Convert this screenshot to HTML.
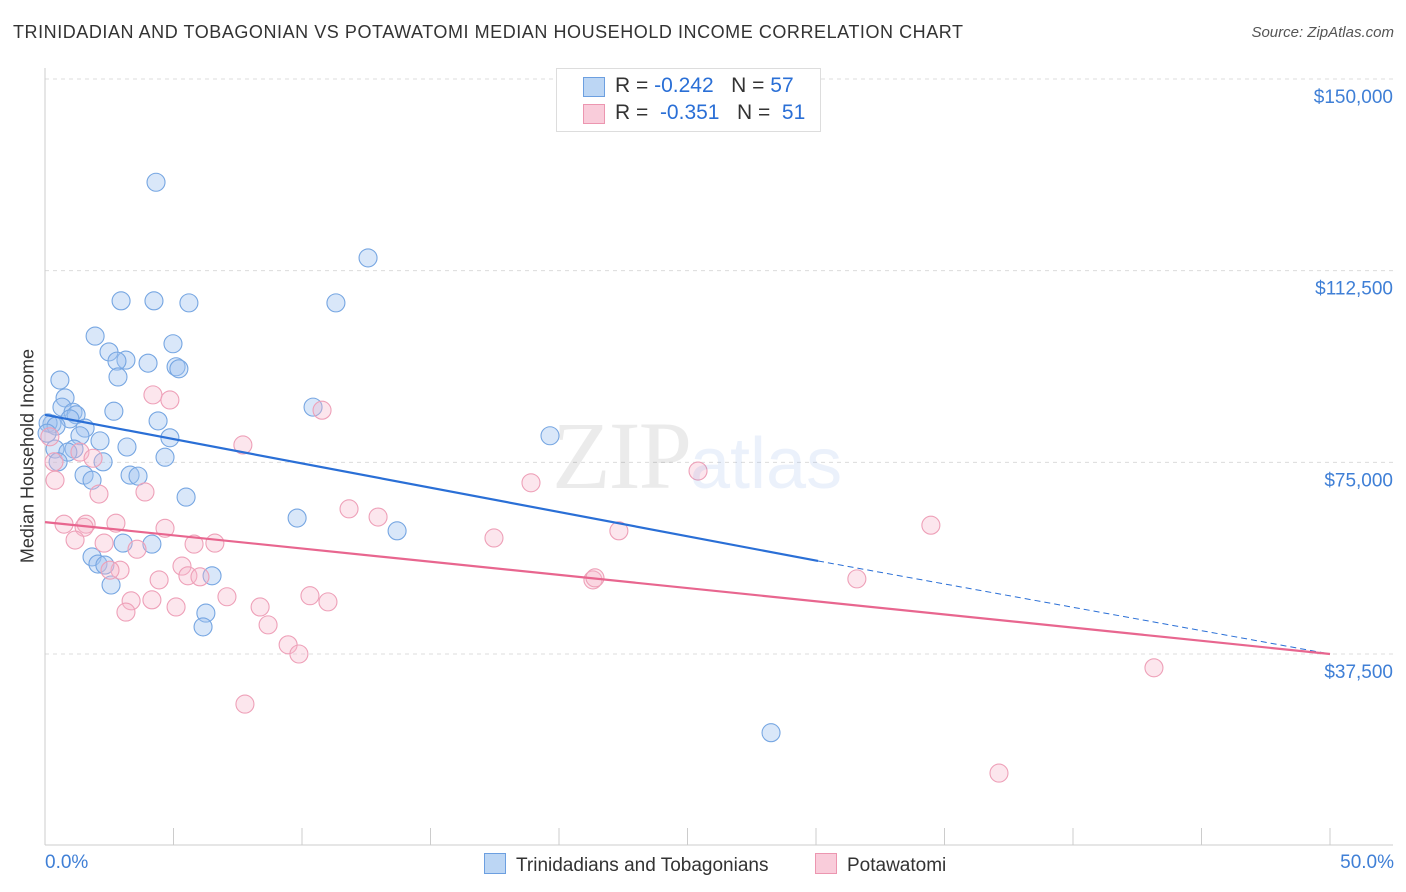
<!DOCTYPE html>
<html><head><meta charset="utf-8"><style>
body{margin:0;background:#fff;font-family:"Liberation Sans",sans-serif}
#wrap{position:relative;width:1406px;height:892px;overflow:hidden}
</style></head><body><div id="wrap">
<svg id="svg" width="1406" height="892"></svg>
</div>
<script>
const blueX=[4.32,12.57,2.96,4.24,5.60,11.32,1.95,4.98,2.49,3.15,2.80,4.01,5.10,5.21,2.84,0.58,0.78,0.66,2.68,1.09,1.21,4.40,0.27,0.97,0.12,0.43,1.56,1.36,2.14,4.86,19.65,3.19,0.39,1.13,0.08,0.89,4.67,2.26,0.51,10.43,1.52,3.31,3.62,1.83,5.49,9.81,13.70,3.04,4.16,1.83,2.06,2.33,6.50,2.57,6.26,6.15,28.25];
const blueY=[129.8,115.0,106.6,106.6,106.2,106.2,99.7,98.2,96.6,95.0,94.8,94.4,93.7,93.3,91.7,91.1,87.6,85.8,85.0,84.8,84.3,83.1,82.5,83.5,82.7,82.1,81.7,80.2,79.2,79.8,80.2,78.0,77.6,77.6,80.7,77.0,76.0,75.1,75.1,85.8,72.5,72.5,72.3,71.5,68.2,64.1,61.6,59.2,59.0,56.5,55.1,54.9,52.8,51.0,45.5,42.8,22.1];
const pinkX=[4.20,4.86,10.78,7.70,1.36,1.87,0.39,0.35,3.89,2.10,18.91,25.41,11.83,12.96,0.74,1.60,2.76,1.52,4.67,22.33,34.47,1.17,2.30,17.47,5.80,6.61,3.58,5.33,2.92,2.53,4.44,5.56,6.03,21.32,21.40,31.59,4.16,3.35,5.10,7.08,8.37,10.31,11.01,3.15,8.68,9.46,9.88,43.15,7.78,37.12,0.19];
const pinkY=[88.2,87.2,85.2,78.4,77.0,75.8,71.5,75.1,69.2,68.8,71.0,73.3,65.9,64.3,62.9,62.9,63.1,62.3,62.1,61.6,62.7,59.8,59.2,60.2,59.0,59.2,58.0,54.7,53.9,53.9,52.0,52.8,52.6,52.0,52.4,52.2,48.1,47.9,46.7,48.7,46.7,48.9,47.7,45.7,43.2,39.3,37.5,34.8,27.7,14.2,80.0];
const yTicks=[150,112.5,75,37.5];
const yTickLabels=["$150,000","$112,500","$75,000","$37,500"];
const blueTrend=[[0,84.3],[30.08,55.7],[50,37.5]];
const pinkTrend=[[0,63.3],[50,37.5]];

const NS="http://www.w3.org/2000/svg",svg=document.getElementById('svg');
const X=v=>45+v/50*1285, Y=v=>79+(150-v)*575/112.5;
function el(t,a,txt){const e=document.createElementNS(NS,t);for(const k in a)e.setAttribute(k,a[k]);if(txt!=null)e.textContent=txt;svg.appendChild(e);return e;}
yTicks.forEach((t,i)=>{
 const g=el('line',{x1:45,x2:1393,y1:Y(t),y2:Y(t),stroke:'#dcdcdc','stroke-dasharray':'4,4'});
 
 
 const l=el('text',{x:1393,y:Y(t)+24,'text-anchor':'end','font-size':19,fill:'#3f7fd6'},yTickLabels[i]);
 
 
});
let a=el('line',{x1:45,x2:45,y1:68,y2:845,stroke:'#ccc'});


a=el('line',{x1:45,x2:1393,y1:845,y2:845,stroke:'#ccc'});


for(let i=0;i<=10;i++){const t=el('line',{x1:X(i*5),x2:X(i*5),y1:828,y2:845,stroke:'#ccc'});
 
 }
function pts(xs,ys,fill,stroke,name){xs.forEach((x,i)=>{const c=el('circle',{cx:X(x),cy:Y(ys[i]),r:9,fill:fill,stroke:stroke,'stroke-width':1.1});
 
 });}
pts(blueX,blueY,'rgba(160,196,240,0.4)','#76a6e2','trinidadian-point');
pts(pinkX,pinkY,'rgba(246,182,202,0.35)','#eea0b8','potawatomi-point');
let l=el('line',{x1:X(blueTrend[0][0]),y1:Y(blueTrend[0][1]),x2:X(blueTrend[1][0]),y2:Y(blueTrend[1][1]),stroke:'#2a6fd6','stroke-width':2.2});


l=el('line',{x1:X(blueTrend[1][0]),y1:Y(blueTrend[1][1]),x2:X(blueTrend[2][0]),y2:Y(blueTrend[2][1]),stroke:'#2a6fd6','stroke-width':1,'stroke-dasharray':'6,4'});


l=el('line',{x1:X(pinkTrend[0][0]),y1:Y(pinkTrend[0][1]),x2:X(pinkTrend[1][0]),y2:Y(pinkTrend[1][1]),stroke:'#e8668f','stroke-width':2.2});


</script>
<div style="position:absolute;left:552px;top:400px;font-family:'Liberation Serif',serif;font-size:96px;color:rgba(0,0,0,0.08);letter-spacing:-2px">ZIP<span style="font-family:'Liberation Sans',sans-serif;font-size:72px;color:rgba(90,140,220,0.12);letter-spacing:0">atlas</span></div>
<div style="position:absolute;left:13px;top:22px;font-size:18px;color:#333;letter-spacing:0.55px">TRINIDADIAN AND TOBAGONIAN VS POTAWATOMI MEDIAN HOUSEHOLD INCOME CORRELATION CHART</div>
<div style="position:absolute;right:12px;top:24px;font-size:15px;color:#555;font-style:italic">Source: ZipAtlas.com</div>
<div style="position:absolute;left:28px;top:456px;transform:translate(-50%,-50%) rotate(-90deg);font-size:18px;color:#333;white-space:nowrap">Median Household Income</div>
<div style="position:absolute;left:45px;top:852px;font-size:19px;color:#3f7fd6">0.0%</div>
<div style="position:absolute;right:12px;top:852px;font-size:19px;color:#3f7fd6">50.0%</div>
<div style="position:absolute;left:556px;top:68px;width:263px;height:62px;border:1px solid #ddd;background:#fff;font-size:21px;color:#333">
 <div style="position:absolute;left:26px;top:8px;width:20px;height:18px;background:rgba(160,196,240,0.7);border:1px solid #6c9fe0"></div>
 <div style="position:absolute;left:58px;top:5px">R = <span style="color:#2a6fd6">-0.242</span> &nbsp;&nbsp;N = <span style="color:#2a6fd6">57</span></div>
 <div style="position:absolute;left:26px;top:35px;width:20px;height:18px;background:rgba(246,182,202,0.7);border:1px solid #ec96b0"></div>
 <div style="position:absolute;left:58px;top:32px">R = &nbsp;<span style="color:#2a6fd6">-0.351</span> &nbsp;&nbsp;N = &nbsp;<span style="color:#2a6fd6">51</span></div>
</div>
<div style="position:absolute;left:484px;top:853px;font-size:19px;color:#333"><span style="display:inline-block;width:20px;height:19px;background:rgba(160,196,240,0.7);border:1px solid #6c9fe0;vertical-align:-3px;margin-right:10px"></span>Trinidadians and Tobagonians</div>
<div style="position:absolute;left:815px;top:853px;font-size:19px;color:#333"><span style="display:inline-block;width:20px;height:19px;background:rgba(246,182,202,0.7);border:1px solid #ec96b0;vertical-align:-3px;margin-right:10px"></span>Potawatomi</div>
</body></html>
